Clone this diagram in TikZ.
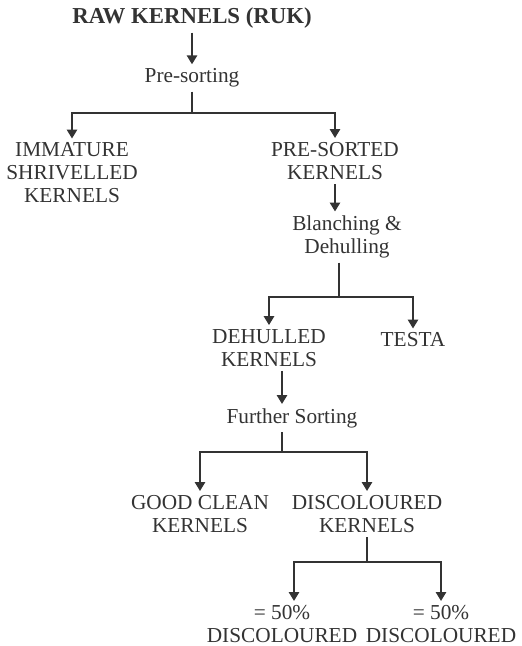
\documentclass[tikz,border=0pt]{standalone}
\usepackage{fontspec}
\setmainfont{Liberation Serif}
\definecolor{inkgray}{RGB}{51, 51, 51}
\usepackage{tikz}
\usetikzlibrary{arrows.meta, positioning, calc}

\begin{document}
\begin{tikzpicture}[
  x=0.5pt, y=-0.5pt,
  tnode/.style={inner sep=2pt, align=center, text=inkgray, font=\fontsize{10.65}{11.5}\selectfont},
  arr/.style={-{Triangle[width=5.2pt, length=4.4pt]}, line width=0.6pt, inkgray},
  lin/.style={line width=0.6pt, inkgray}
]
  \useasboundingbox (0,0) rectangle (521,646);

  \node[tnode, font=\fontsize{11.4}{12}\selectfont\bfseries] (R) at (192, 18) {RAW KERNELS (RUK)};
  \node[tnode] (P) at (192, 78) {Pre-sorting};
  \node[tnode] (I) at (72, 173) {IMMATURE\\SHRIVELLED\\KERNELS};
  \node[tnode] (PS) at (335, 161) {PRE-SORTED\\KERNELS};
  \node[tnode] (BD) at (347, 237) {Blanching \&\\Dehulling};
  \node[tnode] (DK) at (269, 348) {DEHULLED\\KERNELS};
  \node[tnode] (TE) at (413, 340) {TESTA};
  \node[tnode] (FS) at (292, 418) {Further Sorting};
  \node[tnode] (GC) at (200, 514) {GOOD CLEAN\\KERNELS};
  \node[tnode] (DC) at (367, 514) {DISCOLOURED\\KERNELS};
  \node[tnode] (L5) at (282, 624) {= 50\%\\DISCOLOURED};
  \node[tnode] (R5) at (441, 624) {= 50\%\\DISCOLOURED};

  \coordinate (j1) at (192, 113);
  \coordinate (j2) at (339, 297);
  \coordinate (j3) at (282, 452);
  \coordinate (j4) at (367, 562);

  \draw[arr] (R) -- (P);
  \draw[lin] (P) -- (j1);
  \draw[arr] (j1) -| (I);
  \draw[arr] (j1) -| (PS);
  \draw[arr] (PS.south) -- (PS.south |- BD.north);
  \draw[lin] (BD.south -| j2) -- (j2);
  \draw[arr] (j2) -| (DK);
  \draw[arr] (j2) -| (TE);
  \draw[arr] (DK.south -| j3) -- (FS.north -| j3);
  \draw[lin] (FS.south -| j3) -- (j3);
  \draw[arr] (j3) -| (GC);
  \draw[arr] (j3) -| (DC);
  \draw[lin] (DC) -- (j4);
  \draw[arr] (j4) -| ([xshift=6pt]L5.north);
  \draw[arr] (j4) -| (R5);
\end{tikzpicture}
\end{document}
